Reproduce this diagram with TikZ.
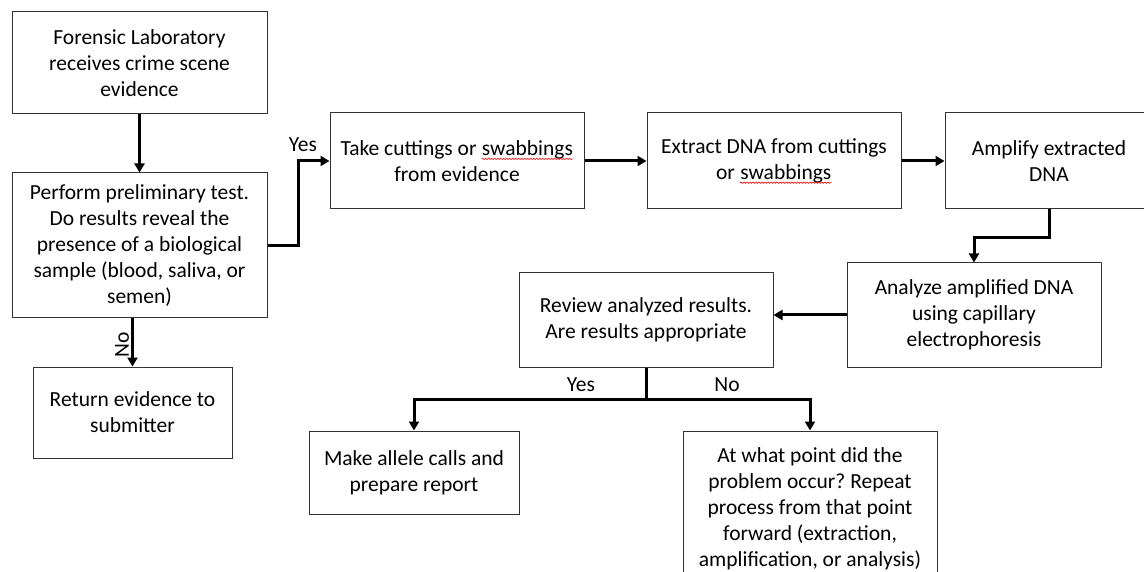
\documentclass[tikz,border=0pt]{standalone}
\usepackage{fontspec}
\setmainfont{Carlito}
\usetikzlibrary{arrows.meta,decorations.pathmorphing}

\newcommand{\wavy}[1]{\tikz[baseline=(w.base)]{\node[draw=none,inner sep=0pt,minimum width=0pt,minimum height=0pt] (w) {#1};
\draw[red,line width=0.6pt,decorate,decoration={snake,amplitude=0.7pt,segment length=3pt}] ([yshift=-3.5pt]w.base west) -- ([yshift=-3.5pt]w.base east);}}

\tikzset{
  box/.style={draw=black!80,line width=1pt,align=center,inner sep=0pt},
}

\begin{document}
\frenchspacing
\begin{tikzpicture}[x=1pt,y=-1pt,>={Triangle[length=9pt,width=10pt]},line width=3pt,
  font=\fontsize{21.5}{26}\selectfont]
\useasboundingbox (0,0) rectangle (1144,572);
\node[box,minimum width=255,minimum height=102] (recv) at (139.5,63) {Forensic Laboratory\\receives crime scene\\evidence};
\node[box,minimum width=255,minimum height=145] (test) at (139.5,245.5) {Perform preliminary test.\\Do results reveal the\\presence of a biological\\sample (blood, saliva, or\\semen)};
\node[box,minimum width=199,minimum height=91] (ret) at (132.5,412.5) {Return evidence to\\submitter};
\node[box,minimum width=254,minimum height=96] (cut) at (457,161) {Take cuttings or \wavy{swabbings}\\from evidence};
\node[box,minimum width=254,minimum height=96] (ext) at (774,161) {Extract DNA from cuttings\\or \wavy{swabbings}};
\node[box,minimum width=208,minimum height=96] (amp) at (1049,161) {Amplify extracted\\DNA};
\node[box,minimum width=254,minimum height=104] (ana) at (974,315) {Analyze amplified DNA\\using capillary\\electrophoresis};
\node[box,minimum width=254,minimum height=94] (rev) at (646,320) {Review analyzed results.\\Are results appropriate};
\node[box,minimum width=210,minimum height=83] (call) at (414,472.5) {Make allele calls and\\prepare report};
\node[box,minimum width=254,minimum height=155] (redo) at (810,508.5) {At what point did the\\problem occur? Repeat\\process from that point\\forward (extraction,\\amplification, or analysis)};
\node (yesA) at (303,145) {Yes};
\node[rotate=90] (noA) at (122,345) {No};
\node (yesB) at (581,385) {Yes};
\node (noB) at (727,385) {No};
\draw[->] (recv) -- (test);
\draw[->] (test.east) -- ++(31,0) |- (cut.west);
\draw[->] (ret.north |- test.south) -- (ret.north);
\draw[->] (cut) -- (ext);
\draw[->] (ext) -- (amp);
\draw[->] (amp.south) -- ++(0,28) -| (ana.north);
\draw[->] (ana.west) -- (ana.west -| rev.east);
\draw[->] (rev.south) -- ++(0,32) -| (call.north);
\draw[->] (rev.south) -- ++(0,32) -| (redo.north);
\end{tikzpicture}
\end{document}
